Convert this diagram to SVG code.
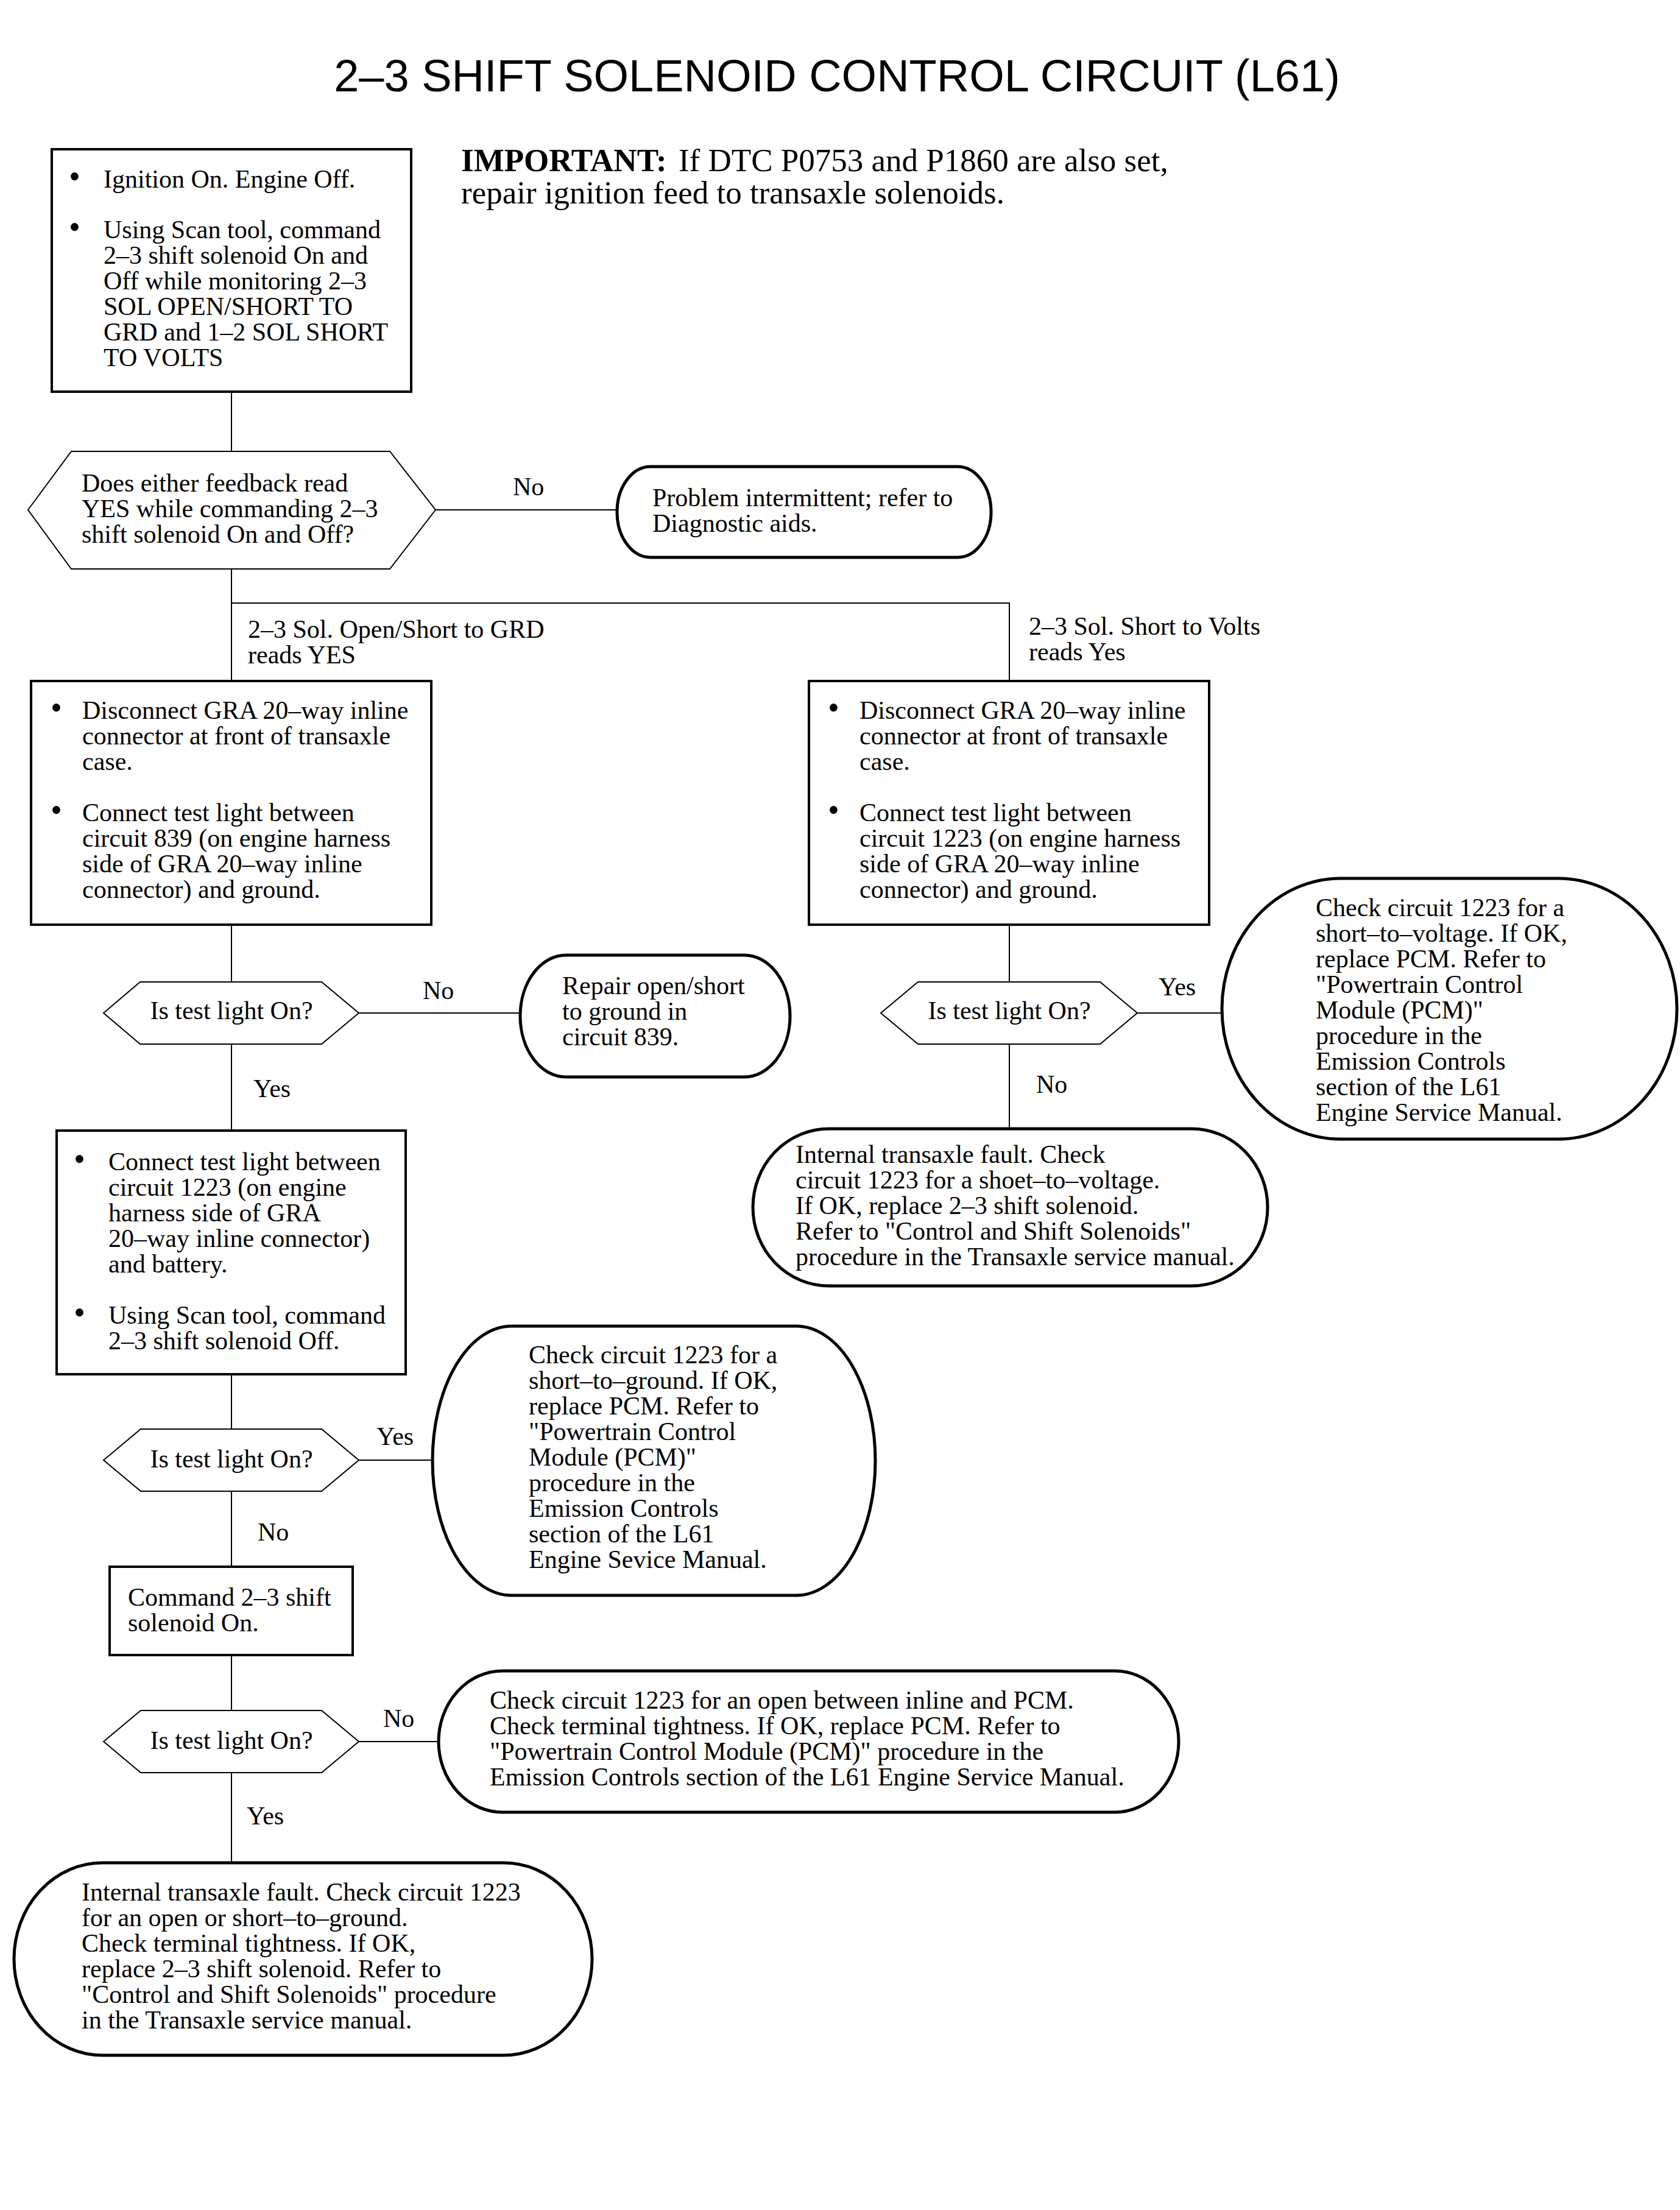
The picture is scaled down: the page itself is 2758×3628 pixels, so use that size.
<svg xmlns="http://www.w3.org/2000/svg" width="2758" height="3628" viewBox="0 0 2758 3628">
<style>
text{font-family:"Liberation Serif","Times New Roman",serif;font-size:42px;fill:#000}
.title{font-family:"Liberation Sans",Arial,sans-serif;font-size:74px}
.imp{font-size:53px}
.b{font-size:54px}
.box{fill:#fff;stroke:#000;stroke-width:4}
.term{fill:#fff;stroke:#000;stroke-width:5}
.hex{fill:#fff;stroke:#000;stroke-width:2}
.conn line{stroke:#000;stroke-width:2}
.mid{text-anchor:middle}
</style>
<rect width="2758" height="3628" fill="#fff"/>
<g id="title"><text class="title mid" x="1374" y="150">2–3 SHIFT SOLENOID CONTROL CIRCUIT (L61)</text></g>
<g id="important">
<text class="imp" x="757" y="281"><tspan font-weight="bold">IMPORTANT:</tspan><tspan dx="6"> If DTC P0753 and P1860 are also set,</tspan></text>
<text class="imp" x="757" y="334">repair ignition feed to transaxle solenoids.</text>
</g>
<g id="connectors" class="conn">
<line x1="380" y1="643" x2="380" y2="741"/>
<line x1="715" y1="837" x2="1013" y2="837"/>
<line x1="380" y1="934" x2="380" y2="1118"/>
<line x1="379" y1="990" x2="1658" y2="990"/>
<line x1="1657" y1="990" x2="1657" y2="1118"/>
<line x1="380" y1="1518" x2="380" y2="1612"/>
<line x1="589" y1="1663" x2="854" y2="1663"/>
<line x1="380" y1="1714" x2="380" y2="1856"/>
<line x1="1657" y1="1518" x2="1657" y2="1612"/>
<line x1="1867" y1="1663" x2="2006" y2="1663"/>
<line x1="1657" y1="1714" x2="1657" y2="1853"/>
<line x1="380" y1="2256" x2="380" y2="2346"/>
<line x1="589" y1="2397" x2="710" y2="2397"/>
<line x1="380" y1="2448" x2="380" y2="2572"/>
<line x1="380" y1="2717" x2="380" y2="2808"/>
<line x1="589" y1="2859" x2="720" y2="2859"/>
<line x1="380" y1="2910" x2="380" y2="3058"/>
</g>
<g id="labels">
<text x="842" y="813">No</text>
<text x="407" y="1047">2–3 Sol. Open/Short to GRD</text>
<text x="407" y="1089">reads YES</text>
<text x="1689" y="1042">2–3 Sol. Short to Volts</text>
<text x="1689" y="1084">reads Yes</text>
<text x="694" y="1640">No</text>
<text x="416" y="1801">Yes</text>
<text x="1902" y="1634">Yes</text>
<text x="1701" y="1794">No</text>
<text x="618" y="2372">Yes</text>
<text x="423" y="2529">No</text>
<text x="629" y="2835">No</text>
<text x="405" y="2995">Yes</text>
</g>
<g id="n1">
<rect class="box" x="85" y="245" width="590" height="398"/>
<text class="b" x="113" y="308">•</text><text x="170" y="308">Ignition On. Engine Off.</text>
<text class="b" x="113" y="391">•</text>
<text x="170" y="391">Using Scan tool, command</text>
<text x="170" y="433">2–3 shift solenoid On and</text>
<text x="170" y="475">Off while monitoring 2–3</text>
<text x="170" y="517">SOL OPEN/SHORT TO</text>
<text x="170" y="559">GRD and 1–2 SOL SHORT</text>
<text x="170" y="601">TO VOLTS</text>
</g>
<g id="n2">
<polygon class="hex" points="46,837 117,741 640,741 715,837 640,934 117,934"/>
<text x="134" y="807">Does either feedback read</text>
<text x="134" y="849">YES while commanding 2–3</text>
<text x="134" y="891">shift solenoid On and Off?</text>
</g>
<g id="n3">
<rect class="term" x="1013" y="766" width="614" height="149" rx="55" ry="74"/>
<text x="1071" y="831">Problem intermittent; refer to</text>
<text x="1071" y="873">Diagnostic aids.</text>
</g>
<g id="n4">
<rect class="box" x="51" y="1118" width="657" height="400"/>
<text class="b" x="83" y="1180">•</text>
<text x="135" y="1180">Disconnect GRA 20–way inline</text>
<text x="135" y="1222">connector at front of transaxle</text>
<text x="135" y="1264">case.</text>
<text class="b" x="83" y="1348">•</text>
<text x="135" y="1348">Connect test light between</text>
<text x="135" y="1390">circuit 839 (on engine harness</text>
<text x="135" y="1432">side of GRA 20–way inline</text>
<text x="135" y="1474">connector) and ground.</text>
</g>
<g id="n5">
<rect class="box" x="1328" y="1118" width="657" height="400"/>
<text class="b" x="1359" y="1180">•</text>
<text x="1411" y="1180">Disconnect GRA 20–way inline</text>
<text x="1411" y="1222">connector at front of transaxle</text>
<text x="1411" y="1264">case.</text>
<text class="b" x="1359" y="1348">•</text>
<text x="1411" y="1348">Connect test light between</text>
<text x="1411" y="1390">circuit 1223 (on engine harness</text>
<text x="1411" y="1432">side of GRA 20–way inline</text>
<text x="1411" y="1474">connector) and ground.</text>
</g>
<g id="n6">
<polygon class="hex" points="170,1663 230,1612 528,1612 589,1663 528,1714 230,1714"/>
<text class="mid" x="380" y="1673">Is test light On?</text>
</g>
<g id="n7">
<rect class="term" x="854" y="1568" width="443" height="200" rx="75" ry="100"/>
<text x="923" y="1632">Repair open/short</text>
<text x="923" y="1674">to ground in</text>
<text x="923" y="1716">circuit 839.</text>
</g>
<g id="n8">
<polygon class="hex" points="1446,1663 1507,1612 1806,1612 1867,1663 1806,1714 1507,1714"/>
<text class="mid" x="1657" y="1673">Is test light On?</text>
</g>
<g id="n9">
<rect class="term" x="2006" y="1442" width="747" height="428" rx="195" ry="214"/>
<text x="2160" y="1504">Check circuit 1223 for a</text>
<text x="2160" y="1546">short–to–voltage. If OK,</text>
<text x="2160" y="1588">replace PCM. Refer to</text>
<text x="2160" y="1630">"Powertrain Control</text>
<text x="2160" y="1672">Module (PCM)"</text>
<text x="2160" y="1714">procedure in the</text>
<text x="2160" y="1756">Emission Controls</text>
<text x="2160" y="1798">section of the L61</text>
<text x="2160" y="1840">Engine Service Manual.</text>
</g>
<g id="n10">
<rect class="term" x="1236" y="1853" width="845" height="258" rx="125" ry="129"/>
<text x="1306" y="1909">Internal transaxle fault. Check</text>
<text x="1306" y="1951">circuit 1223 for a shoet–to–voltage.</text>
<text x="1306" y="1993">If OK, replace 2–3 shift solenoid.</text>
<text x="1306" y="2035">Refer to "Control and Shift Solenoids"</text>
<text x="1306" y="2077">procedure in the Transaxle service manual.</text>
</g>
<g id="n11">
<rect class="box" x="93" y="1856" width="573" height="400"/>
<text class="b" x="121" y="1921">•</text>
<text x="178" y="1921">Connect test light between</text>
<text x="178" y="1963">circuit 1223 (on engine</text>
<text x="178" y="2005">harness side of GRA</text>
<text x="178" y="2047">20–way inline connector)</text>
<text x="178" y="2089">and battery.</text>
<text class="b" x="121" y="2173">•</text>
<text x="178" y="2173">Using Scan tool, command</text>
<text x="178" y="2215">2–3 shift solenoid Off.</text>
</g>
<g id="n12">
<polygon class="hex" points="170,2397 231,2346 528,2346 589,2397 528,2448 231,2448"/>
<text class="mid" x="380" y="2409">Is test light On?</text>
</g>
<g id="n13">
<rect class="term" x="710" y="2177" width="727" height="442" rx="130" ry="221"/>
<text x="868" y="2238">Check circuit 1223 for a</text>
<text x="868" y="2280">short–to–ground. If OK,</text>
<text x="868" y="2322">replace PCM. Refer to</text>
<text x="868" y="2364">"Powertrain Control</text>
<text x="868" y="2406">Module (PCM)"</text>
<text x="868" y="2448">procedure in the</text>
<text x="868" y="2490">Emission Controls</text>
<text x="868" y="2532">section of the L61</text>
<text x="868" y="2574">Engine Sevice Manual.</text>
</g>
<g id="n14">
<rect class="box" x="180" y="2572" width="399" height="145"/>
<text x="210" y="2636">Command 2–3 shift</text>
<text x="210" y="2678">solenoid On.</text>
</g>
<g id="n15">
<polygon class="hex" points="170,2859 231,2808 528,2808 589,2859 528,2910 231,2910"/>
<text class="mid" x="380" y="2871">Is test light On?</text>
</g>
<g id="n16">
<rect class="term" x="720" y="2743" width="1215" height="232" rx="105" ry="116"/>
<text x="804" y="2805">Check circuit 1223 for an open between inline and PCM.</text>
<text x="804" y="2847">Check terminal tightness. If OK, replace PCM. Refer to</text>
<text x="804" y="2889">"Powertrain Control Module (PCM)" procedure in the</text>
<text x="804" y="2931">Emission Controls section of the L61 Engine Service Manual.</text>
</g>
<g id="n17">
<rect class="term" x="23" y="3058" width="949" height="316" rx="145" ry="158"/>
<text x="134" y="3120">Internal transaxle fault. Check circuit 1223</text>
<text x="134" y="3162">for an open or short–to–ground.</text>
<text x="134" y="3204">Check terminal tightness. If OK,</text>
<text x="134" y="3246">replace 2–3 shift solenoid. Refer to</text>
<text x="134" y="3288">"Control and Shift Solenoids" procedure</text>
<text x="134" y="3330">in the Transaxle service manual.</text>
</g>
</svg>
